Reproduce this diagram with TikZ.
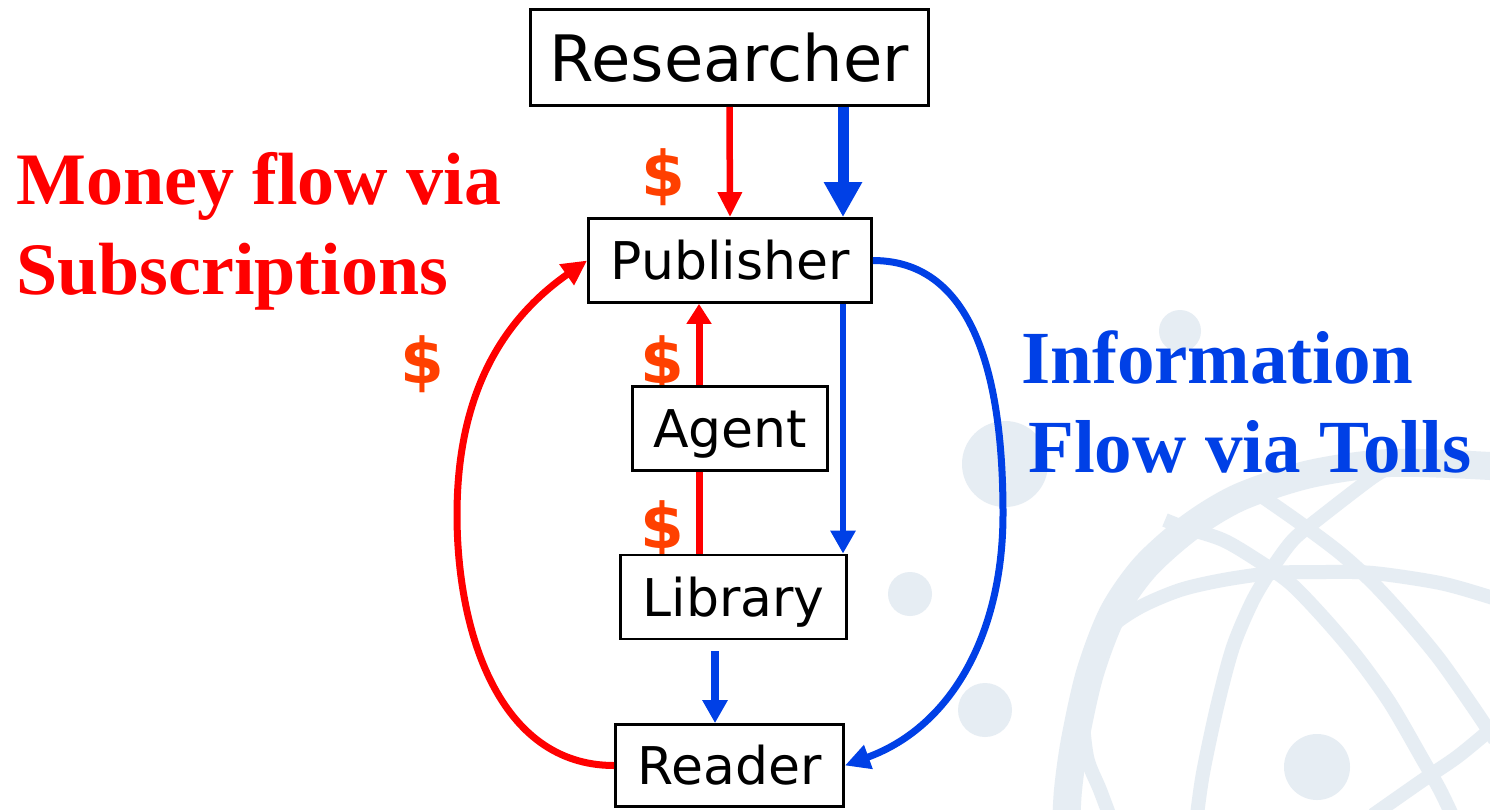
\documentclass[tikz,border=0pt]{standalone}
\usepackage{fontspec}
\setmainfont{DejaVu Sans}
\newfontfamily\titlefont{Liberation Serif}
\usetikzlibrary{arrows.meta}
\definecolor{myred}{RGB}{255,0,0}
\definecolor{myblue}{RGB}{0,64,230}
\definecolor{dollarc}{RGB}{255,64,0}
\definecolor{bgc}{RGB}{230,237,243}
\begin{document}
\begin{tikzpicture}[x=1pt,y=1pt,
  box/.style={draw=black, fill=white, line width=2.8pt, inner sep=0pt,
    font=\fontsize{52}{52}\selectfont, text height=38pt, text depth=0pt},
  dollarsign/.style={text=dollarc, font=\bfseries\fontsize{63}{63}\selectfont, inner sep=0pt},
  redtitle/.style={anchor=base west, text=myred, inner sep=0pt,
    font=\titlefont\bfseries\fontsize{74}{74}\selectfont},
  bluetitle/.style={anchor=base west, text=myblue, inner sep=0pt,
    font=\titlefont\bfseries\fontsize{75}{75}\selectfont},
  bgline/.style={draw=bgc, line width=14pt},
  bgdot/.style={fill=bgc},
  redthin/.style={draw=myred, line width=6.5pt, -{Triangle[length=25pt,width=23pt]}},
  redmid/.style={draw=myred, line width=7pt},
  redcurve/.style={draw=myred, line width=7pt, -{Triangle[length=25pt,width=24pt]}},
  bluethick/.style={draw=myblue, line width=11pt, -{Triangle[length=35pt,width=36pt]}},
  bluethin/.style={draw=myblue, line width=6.5pt, -{Triangle[length=23pt,width=24pt]}},
  bluemid/.style={draw=myblue, line width=8pt, -{Triangle[length=23pt,width=24pt]}},
  bluecurve/.style={draw=myblue, line width=7pt, -{Triangle[length=25pt,width=24pt]}}
]
\useasboundingbox (0,0) rectangle (1490,-809);
\fill[white] (0,0) rectangle (1490,-809);

% background logo
\begin{scope}
\clip (0,0) rectangle (1490,-809);
\draw[draw=bgc, line width=28pt] plot[smooth] coordinates {(1066,-830) (1068,-790) (1075,-740) (1090,-673) (1113,-613) (1145,-567) (1190,-527) (1240,-497) (1310,-474) (1390,-463) (1490,-466) (1520,-470)};
\draw[bgline] plot[smooth] coordinates {(1115,-830) (1100,-790) (1087,-757) (1083,-707) (1093,-657) (1110,-628) (1140,-607) (1180,-590) (1223,-580) (1273,-573) (1323,-572) (1373,-573) (1440,-583) (1490,-597) (1510,-604)};
\draw[bgline] plot[smooth] coordinates {(1165,-520) (1183,-527) (1223,-540) (1257,-560) (1290,-583) (1323,-617) (1357,-657) (1390,-703) (1423,-760) (1440,-790) (1452,-815)};
\draw[bgline] plot[smooth] coordinates {(1395,-465) (1373,-477) (1317,-520) (1293,-540) (1273,-567) (1253,-600) (1233,-647) (1217,-707) (1203,-773) (1197,-815)};
\draw[bgline] plot[smooth] coordinates {(1257,-493) (1300,-523) (1340,-553) (1373,-583) (1407,-620) (1440,-660) (1473,-707) (1495,-740)};
\draw[bgline] plot[smooth] coordinates {(1500,-722) (1490,-730) (1457,-757) (1423,-780) (1373,-815)};
\fill[bgdot] (1317,-767) circle (33);
\fill[bgdot] (1180,-331) circle (21);
\fill[bgdot] (1005,-464) circle (43);
\fill[bgdot] (910,-594) circle (22);
\fill[bgdot] (985,-710) circle (27);
\end{scope}

% titles
\node[redtitle] (money1) at (16,-204) {Money flow via};
\node[redtitle] (money2) at (16,-294) {Subscriptions};
\node[bluetitle] (info1) at (1021,-383) {Information};
\node[bluetitle] (info2) at (1028,-472) {Flow via Tolls};

% dollar signs
\node[dollarsign] (d1) at (663,-177.5) {\$};
\node[dollarsign] (d2) at (422,-364) {\$};
\node[dollarsign] (d3) at (662,-364) {\$};
\node[dollarsign] (d4) at (662,-529) {\$};

% boxes
\node[box, font=\fontsize{64}{64}\selectfont, text height=47pt, minimum width=398pt, minimum height=96pt] (res) at (729.5,-57.5) {Researcher};
\node[box, minimum width=283pt, minimum height=84pt] (pub) at (730,-260.5) {Publisher};
\node[box, minimum width=195pt, minimum height=84pt] (agent) at (730,-428.5) {Agent};
\node[box, minimum width=226pt, minimum height=84pt] (lib) at (733.5,-597) {Library};
\node[box, minimum width=228pt, minimum height=82pt] (reader) at (729.5,-765.5) {Reader};

% helper columns
\coordinate (bx) at (843,0);
\coordinate (rx) at (699,0);
\coordinate (lx) at (715,0);
\coordinate (rl) at (457,-515);
\coordinate (bl) at (1003,-514);

% connectors
\draw[redthin] (res.south) -- (pub.north);
\draw[bluethick] (res.south -| bx) -- (pub.north -| bx);
\draw[redmid, -{Triangle[length=20pt,width=24pt]}] (agent.north -| rx) -- (pub.south -| rx);
\draw[redmid] (lib.north -| rx) -- (agent.south -| rx);
\draw[bluethin] (pub.south -| bx) -- (lib.north -| bx);
\draw[bluemid, shorten <=11pt] (lib.south -| lx) -- (reader.north -| lx);
\draw[redcurve] (reader.west) to[out=180,in=-90] (rl) to[out=90,in=-145] (pub.west);
\draw[bluecurve] (pub.east) to[out=0,in=90] (bl) to[out=-90,in=20] (reader.east);
\end{tikzpicture}
\end{document}
